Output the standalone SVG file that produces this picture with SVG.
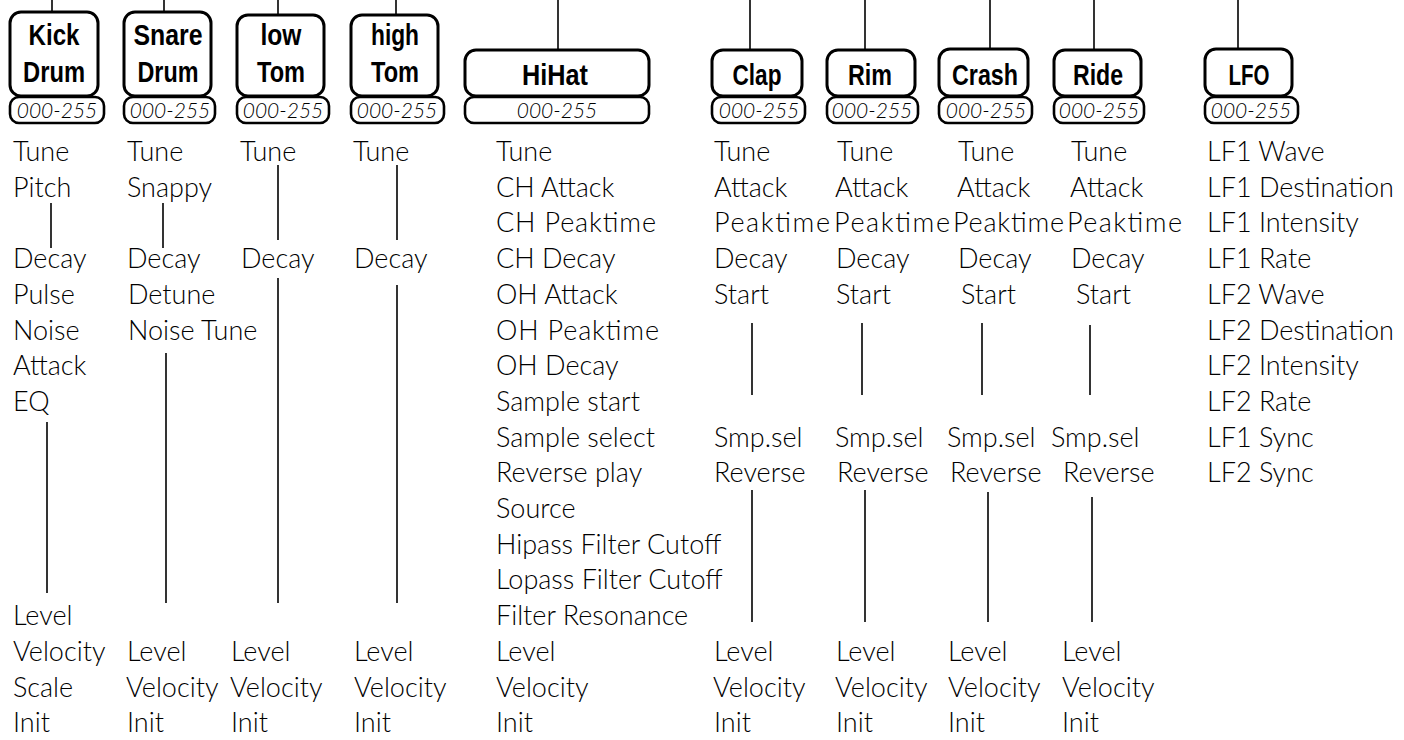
<svg xmlns="http://www.w3.org/2000/svg" width="1404" height="740" viewBox="0 0 1404 740">
<style>
.bg{fill:#fff}
.tb{fill:#fff;stroke:#000;stroke-width:3}
.rb{fill:#fff;stroke:#000;stroke-width:2.6}
.tt{font-family:"Liberation Sans Narrow","Liberation Sans",Arial,sans-serif;font-weight:bold;font-size:29px;fill:#000;text-anchor:middle}
.rt{font-family:Lato,"Liberation Sans",sans-serif;font-weight:300;font-style:italic;font-size:21px;fill:#000;text-anchor:middle}
.p{font-family:Lato,"Liberation Sans",sans-serif;font-weight:300;font-size:27px;fill:#000}
.c line{stroke:#000;stroke-width:1.6}
</style>
<rect class="bg" x="0" y="0" width="1404" height="740"/>
<g class="c" id="connectors">
<line x1="52" y1="0" x2="52" y2="13"/>
<line x1="164" y1="0" x2="164" y2="13"/>
<line x1="278" y1="0" x2="278" y2="16"/>
<line x1="396" y1="0" x2="396" y2="16"/>
<line x1="558" y1="0" x2="558" y2="51"/>
<line x1="750" y1="0" x2="750" y2="51"/>
<line x1="865" y1="0" x2="865" y2="51"/>
<line x1="990" y1="0" x2="990" y2="51"/>
<line x1="1094" y1="0" x2="1094" y2="51"/>
<line x1="1238" y1="0" x2="1238" y2="51"/>
<line x1="51" y1="203" x2="51" y2="248"/>
<line x1="47" y1="422" x2="47" y2="593"/>
<line x1="163" y1="203" x2="163" y2="248"/>
<line x1="166" y1="353" x2="166" y2="603"/>
<line x1="278" y1="165" x2="278" y2="240"/>
<line x1="278" y1="278" x2="278" y2="603"/>
<line x1="397" y1="165" x2="397" y2="240"/>
<line x1="397" y1="285" x2="397" y2="603"/>
<line x1="752" y1="323" x2="752" y2="395"/>
<line x1="862" y1="323" x2="862" y2="395"/>
<line x1="982" y1="323" x2="982" y2="395"/>
<line x1="1090" y1="325" x2="1090" y2="395"/>
<line x1="752" y1="490" x2="752" y2="622"/>
<line x1="865" y1="490" x2="865" y2="622"/>
<line x1="988" y1="492" x2="988" y2="622"/>
<line x1="1092" y1="497" x2="1092" y2="622"/>
</g>
<g id="kick">
<rect class="rb" x="10" y="97" width="94" height="26" rx="9"/>
<rect class="tb" x="10" y="12" width="88" height="84" rx="11"/>
<text class="tt" x="54" y="45" textLength="51" lengthAdjust="spacingAndGlyphs">Kick</text>
<text class="tt" x="54" y="82" textLength="62" lengthAdjust="spacingAndGlyphs">Drum</text>
<text class="rt" x="57" y="118">000-255</text>
<text class="p" x="13" y="161">Tune</text>
<text class="p" x="13" y="197">Pitch</text>
<text class="p" x="13" y="268">Decay</text>
<text class="p" x="13" y="304">Pulse</text>
<text class="p" x="13" y="340">Noise</text>
<text class="p" x="13" y="375">Attack</text>
<text class="p" x="13" y="411">EQ</text>
<text class="p" x="13" y="625">Level</text>
<text class="p" x="13" y="661">Velocity</text>
<text class="p" x="13" y="697">Scale</text>
<text class="p" x="13" y="732">Init</text>
</g>
<g id="snare">
<rect class="rb" x="124" y="97" width="91" height="26" rx="9"/>
<rect class="tb" x="124" y="12" width="87" height="84" rx="11"/>
<text class="tt" x="168" y="45" textLength="69" lengthAdjust="spacingAndGlyphs">Snare</text>
<text class="tt" x="168" y="82" textLength="61" lengthAdjust="spacingAndGlyphs">Drum</text>
<text class="rt" x="170" y="118">000-255</text>
<text class="p" x="127" y="161">Tune</text>
<text class="p" x="127" y="197">Snappy</text>
<text class="p" x="127" y="268">Decay</text>
<text class="p" x="128" y="304">Detune</text>
<text class="p" x="128" y="340">Noise Tune</text>
<text class="p" x="127" y="661">Level</text>
<text class="p" x="126" y="697">Velocity</text>
<text class="p" x="127" y="732">Init</text>
</g>
<g id="lowtom">
<rect class="rb" x="237" y="97" width="92" height="26" rx="9"/>
<rect class="tb" x="237" y="15" width="87" height="81" rx="11"/>
<text class="tt" x="281" y="45" textLength="41" lengthAdjust="spacingAndGlyphs">low</text>
<text class="tt" x="281" y="82" textLength="48" lengthAdjust="spacingAndGlyphs">Tom</text>
<text class="rt" x="283" y="118">000-255</text>
<text class="p" x="240" y="161">Tune</text>
<text class="p" x="241" y="268">Decay</text>
<text class="p" x="231" y="661">Level</text>
<text class="p" x="230" y="697">Velocity</text>
<text class="p" x="231" y="732">Init</text>
</g>
<g id="hightom">
<rect class="rb" x="351" y="97" width="93" height="26" rx="9"/>
<rect class="tb" x="351" y="15" width="87" height="81" rx="11"/>
<text class="tt" x="395" y="45" textLength="48" lengthAdjust="spacingAndGlyphs">high</text>
<text class="tt" x="395" y="82" textLength="48" lengthAdjust="spacingAndGlyphs">Tom</text>
<text class="rt" x="397" y="118">000-255</text>
<text class="p" x="353" y="161">Tune</text>
<text class="p" x="354" y="268">Decay</text>
<text class="p" x="354" y="661">Level</text>
<text class="p" x="354" y="697">Velocity</text>
<text class="p" x="354" y="732">Init</text>
</g>
<g id="hihat">
<rect class="rb" x="465" y="97" width="184" height="26" rx="9"/>
<rect class="tb" x="465" y="50" width="184" height="46" rx="11"/>
<text class="tt" x="555" y="85" textLength="66" lengthAdjust="spacingAndGlyphs">HiHat</text>
<text class="rt" x="557" y="118">000-255</text>
<text class="p" x="496" y="161">Tune</text>
<text class="p" x="496" y="197">CH Attack</text>
<text class="p" x="496" y="232" textLength="160">CH Peaktime</text>
<text class="p" x="496" y="268">CH Decay</text>
<text class="p" x="496" y="304">OH Attack</text>
<text class="p" x="496" y="340" textLength="163">OH Peaktime</text>
<text class="p" x="496" y="375">OH Decay</text>
<text class="p" x="496" y="411">Sample start</text>
<text class="p" x="496" y="447">Sample select</text>
<text class="p" x="496" y="482">Reverse play</text>
<text class="p" x="496" y="518">Source</text>
<text class="p" x="496" y="554">Hipass Filter Cutoff</text>
<text class="p" x="496" y="589">Lopass Filter Cutoff</text>
<text class="p" x="496" y="625">Filter Resonance</text>
<text class="p" x="496" y="661">Level</text>
<text class="p" x="496" y="697">Velocity</text>
<text class="p" x="496" y="732">Init</text>
</g>
<g id="clap">
<rect class="rb" x="712" y="97" width="93" height="26" rx="9"/>
<rect class="tb" x="712" y="50" width="90" height="46" rx="11"/>
<text class="tt" x="757" y="85" textLength="49" lengthAdjust="spacingAndGlyphs">Clap</text>
<text class="rt" x="759" y="118">000-255</text>
<text class="p" x="714" y="161">Tune</text>
<text class="p" x="714" y="197">Attack</text>
<text class="p" x="714" y="232" textLength="116">Peaktime</text>
<text class="p" x="714" y="268">Decay</text>
<text class="p" x="714" y="304">Start</text>
<text class="p" x="714" y="447">Smp.sel</text>
<text class="p" x="714" y="482">Reverse</text>
<text class="p" x="714" y="661">Level</text>
<text class="p" x="713" y="697">Velocity</text>
<text class="p" x="714" y="732">Init</text>
</g>
<g id="rim">
<rect class="rb" x="827" y="97" width="91" height="26" rx="9"/>
<rect class="tb" x="827" y="50" width="88" height="46" rx="11"/>
<text class="tt" x="870" y="85" textLength="44" lengthAdjust="spacingAndGlyphs">Rim</text>
<text class="rt" x="872" y="118">000-255</text>
<text class="p" x="837" y="161">Tune</text>
<text class="p" x="835" y="197">Attack</text>
<text class="p" x="834" y="232" textLength="116">Peaktime</text>
<text class="p" x="836" y="268">Decay</text>
<text class="p" x="836" y="304">Start</text>
<text class="p" x="835" y="447">Smp.sel</text>
<text class="p" x="837" y="482">Reverse</text>
<text class="p" x="836" y="661">Level</text>
<text class="p" x="835" y="697">Velocity</text>
<text class="p" x="836" y="732">Init</text>
</g>
<g id="crash">
<rect class="rb" x="939" y="97" width="93" height="26" rx="9"/>
<rect class="tb" x="939" y="49" width="89" height="47" rx="11"/>
<text class="tt" x="985" y="85" textLength="66" lengthAdjust="spacingAndGlyphs">Crash</text>
<text class="rt" x="986" y="118">000-255</text>
<text class="p" x="958" y="161">Tune</text>
<text class="p" x="957" y="197">Attack</text>
<text class="p" x="953" y="232" textLength="111">Peaktime</text>
<text class="p" x="958" y="268">Decay</text>
<text class="p" x="961" y="304">Start</text>
<text class="p" x="947" y="447">Smp.sel</text>
<text class="p" x="950" y="482">Reverse</text>
<text class="p" x="948" y="661">Level</text>
<text class="p" x="948" y="697">Velocity</text>
<text class="p" x="948" y="732">Init</text>
</g>
<g id="ride">
<rect class="rb" x="1054" y="97" width="90" height="26" rx="9"/>
<rect class="tb" x="1054" y="50" width="87" height="46" rx="11"/>
<text class="tt" x="1098" y="85" textLength="50" lengthAdjust="spacingAndGlyphs">Ride</text>
<text class="rt" x="1099" y="118">000-255</text>
<text class="p" x="1071" y="161">Tune</text>
<text class="p" x="1070" y="197">Attack</text>
<text class="p" x="1067" y="232" textLength="115">Peaktime</text>
<text class="p" x="1071" y="268">Decay</text>
<text class="p" x="1076" y="304">Start</text>
<text class="p" x="1051" y="447">Smp.sel</text>
<text class="p" x="1063" y="482">Reverse</text>
<text class="p" x="1062" y="661">Level</text>
<text class="p" x="1062" y="697">Velocity</text>
<text class="p" x="1062" y="732">Init</text>
</g>
<g id="lfo">
<rect class="rb" x="1205" y="97" width="93" height="26" rx="9"/>
<rect class="tb" x="1205" y="49" width="87" height="47" rx="11"/>
<text class="tt" x="1249" y="85" textLength="41" lengthAdjust="spacingAndGlyphs">LFO</text>
<text class="rt" x="1251" y="118">000-255</text>
<text class="p" x="1207" y="161">LF1 Wave</text>
<text class="p" x="1207" y="197">LF1 Destination</text>
<text class="p" x="1207" y="232">LF1 Intensity</text>
<text class="p" x="1207" y="268">LF1 Rate</text>
<text class="p" x="1207" y="304">LF2 Wave</text>
<text class="p" x="1207" y="340">LF2 Destination</text>
<text class="p" x="1207" y="375">LF2 Intensity</text>
<text class="p" x="1207" y="411">LF2 Rate</text>
<text class="p" x="1207" y="447">LF1 Sync</text>
<text class="p" x="1207" y="482">LF2 Sync</text>
</g>
</svg>
